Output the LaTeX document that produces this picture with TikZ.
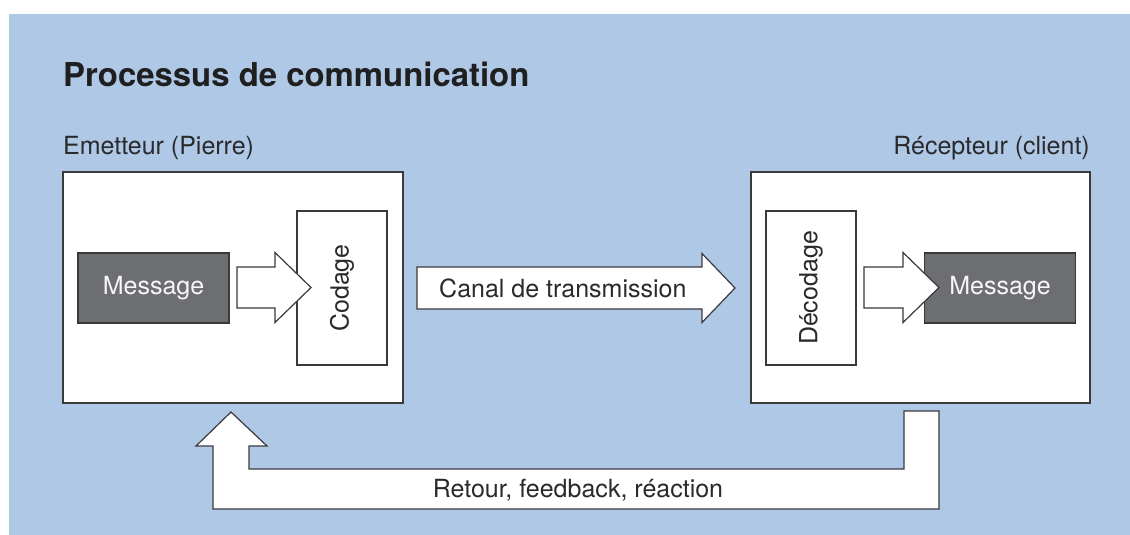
\documentclass[tikz,border=0pt]{standalone}
\usepackage{fontspec}
\setmainfont{TeX Gyre Heros}
\usetikzlibrary{calc}
\definecolor{panelblue}{HTML}{AEC8E6}
\definecolor{msggray}{HTML}{6D6E71}
\definecolor{inkgray}{HTML}{2A2A2C}
\definecolor{edgegray}{HTML}{3A3A3C}
\tikzset{
  txt/.style={text=inkgray, font=\fontsize{25}{30}\selectfont, inner sep=0pt},
  framebox/.style={draw=edgegray, line width=1.2pt, fill=white, inner sep=0pt},
  msgbox/.style={draw=edgegray, line width=1.2pt, fill=msggray, inner sep=0pt,
    text=white!94!gray, font=\fontsize{25}{30}\selectfont,
    minimum width=151pt, minimum height=70pt},
  codebox/.style={draw=edgegray, line width=1.2pt, fill=white, inner sep=0pt,
    text=inkgray, font=\fontsize{25}{30}\selectfont,
    minimum width=90pt, minimum height=154pt},
  blockarrow/.style={draw=edgegray, line width=1.2pt, fill=white, line join=miter}
}
% horizontal block arrow: #1 tail x, #2 head base x, #3 tip x, #4 centre y,
% #5 half shaft width, #6 half head width
\newcommand\hblockarrow[6]{%
  \draw[blockarrow] (#1,#4-#5) -- (#2,#4-#5) -- (#2,#4-#6) -- (#3,#4)
    -- (#2,#4+#6) -- (#2,#4+#5) -- (#1,#4+#5) -- cycle;}
\begin{document}
\begin{tikzpicture}[x=1pt,y=-1pt]
\useasboundingbox (0,0) rectangle (1130,535);
\fill[panelblue] (9,14) rectangle (1130,535);

% headings
\node[txt, anchor=base west, font=\fontsize{32.9}{38}\selectfont\bfseries, text=black!88]
  (title) at (63,87) {Processus de communication};
\node[txt, anchor=base west] (lsender) at (63,154) {Emetteur (Pierre)};
\node[txt, anchor=base east] (lreceiver) at (1090,154) {Récepteur (client)};

% sender side
\node[framebox, minimum width=340pt, minimum height=231pt] (sender) at (233,287.5) {};
\node[codebox] (coding) at (342,288) {\rotatebox{90}{Codage}};
\node[msgbox] (msgA) at (153.5,288) {Message};
\hblockarrow{237}{275}{311}{287.5}{20.5}{35}

% receiver side
\node[framebox, minimum width=339pt, minimum height=231pt] (receiver) at (920.5,287.5) {};
\node[codebox] (decoding) at (811,288) {\rotatebox{90}{Décodage}};
\node[msgbox] (msgB) at (1000,288) {Message};
\hblockarrow{864}{903}{939}{287.5}{20.5}{35}

% transmission channel
\hblockarrow{417}{702}{735}{288}{21}{34.5}
\node[txt, anchor=west] (canal) at (439,288) {Canal de transmission};

% feedback loop from receiver back to sender
\draw[blockarrow] (904,411) -- (939,411) -- (939,509) -- (213,509) -- (213,446)
  -- (196,446) -- (231,412) -- (267,446) -- (249,446) -- (249,469) -- (904,469) -- cycle;
\node[txt] (feedback) at (578,490) {Retour, feedback, réaction};
\end{tikzpicture}
\end{document}
